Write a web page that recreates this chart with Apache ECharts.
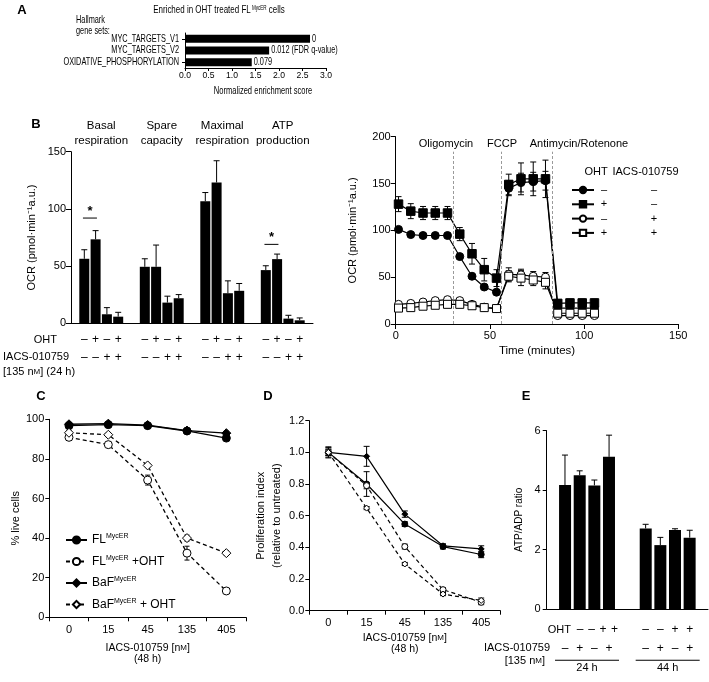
<!DOCTYPE html>
<html>
<head>
<meta charset="utf-8">
<title>IACS-010759 figure</title>
<script src="https://cdn.jsdelivr.net/npm/echarts@6.0.0/dist/echarts.min.js"></script>
<style>
  html, body { margin: 0; padding: 0; background: #fff; }
  #chart { width: 709px; height: 682px; }
</style>
</head>
<body>
<div id="chart"></div>
<script>
// ---------- data ----------
// A: GSEA hallmark sets
const gseaSets = ['MYC_TARGETS_V1', 'MYC_TARGETS_V2', 'OXIDATIVE_PHOSPHORYLATION'];
const gseaNES = [2.66, 1.79, 1.42];
const gseaFdr = ['0', '0.012 (FDR q-value)', '0.079'];

// B left: OCR summary, one row per condition, one value per group
const ocrGroups = ['Basal\nrespiration', 'Spare\ncapacity', 'Maximal\nrespiration', 'ATP\nproduction'];
const ocrOHT = ['–', '+', '–', '+'];
const ocrIACS = ['–', '–', '+', '+'];
const ocrMean = [
  [56.4, 49.4, 106.7, 46.5],
  [73.4, 49.4, 123.1, 56.1],
  [7.9, 18.1, 26.3, 4.1],
  [5.8, 21.9, 28.4, 2.6]
];
const ocrSem = [
  [7.9, 7.0, 7.6, 3.8],
  [7.6, 19.0, 19.0, 4.4],
  [5.8, 5.6, 10.8, 2.9],
  [3.8, 3.2, 6.4, 2.1]
];
const ocrSig = [[0, 92], [3, 69]]; // group index, bracket level

// B right: Seahorse trace
const seaTime = [1.5, 8, 14.5, 21, 27.5, 34, 40.5, 47, 53.5, 60, 66.5, 73, 79.5, 86, 92.5, 99, 105.5];
const seaInject = [30.5, 56, 83];
const seaInjectNames = ['Oligomycin', 'FCCP', 'Antimycin/Rotenone'];
const seaNames = ['ctrl', 'OHT', 'IACS', 'OHT+IACS'];
const seaOHT = ['–', '+', '–', '+'];
const seaIACS = ['–', '–', '+', '+'];
const seaCtrl = [101, 95.5, 94.5, 94.5, 94.5, 72, 51, 39.5, 34, 145, 151, 152, 153, 17, 17, 17, 17];
const seaOht = [128, 120.5, 118.5, 118.5, 118.5, 96, 75, 58, 49, 149, 155, 155, 155, 22, 22.5, 22.5, 22.5];
const seaIacs = [21, 22, 23.5, 25, 26, 25, 21, 18, 16.5, 53, 52.5, 51, 50, 9, 9, 9, 9];
const seaBoth = [17, 17.5, 19, 20, 21, 21, 19.5, 17.5, 16.5, 51, 49, 47, 44.5, 11.5, 11.5, 11.5, 11.5];
const seaCtrlSem = [2, 2, 1.5, 1.5, 1.5, 2, 2, 2, 2, 8, 10, 10, 10, 2, 2, 2, 2];
const seaOhtSem = [8, 8, 7, 7, 7, 7, 11, 12, 9, 11, 17, 18, 20, 4, 4, 4, 4];
const seaIacsSem = [2, 2, 2, 2, 2, 2, 2, 2, 2, 7, 6, 5, 5, 1, 1, 1, 1];
const seaBothSem = [2, 2, 2, 2, 2, 2, 2, 2, 2, 6, 8, 6, 7, 1, 1, 1, 1];

// C: viability
const doses = ['0', '15', '45', '135', '405'];
const liveFL = [96.8, 97.3, 96.8, 94.1, 90.5];
const liveFLOht = [90.9, 87.2, 69.3, 32.4, 13.3];
const liveBaF = [97.5, 97.8, 97.1, 94.3, 93.0];
const liveBaFOht = [93.2, 92.2, 76.7, 40.0, 32.4];
const liveFLSem = [1, 1, 0.8, 1, 1];
const liveFLOhtSem = [1, 1, 2.5, 3.5, 1.5];
const liveBaFSem = [1, 0.8, 0.8, 1, 1];
const liveBaFOhtSem = [1, 1, 1, 1.5, 1.2];

// D: proliferation index
const prolFL = [1.0, 0.80, 0.547, 0.405, 0.355];
const prolBaF = [1.0, 0.975, 0.61, 0.41, 0.39];
const prolFLOht = [1.0, 0.79, 0.405, 0.133, 0.053];
const prolBaFOht = [1.0, 0.648, 0.295, 0.105, 0.065];
const prolFLSem = [0.03, 0.078, 0.015, 0.015, 0.02];
const prolBaFSem = [0.035, 0.063, 0.02, 0.012, 0.02];
const prolFLOhtSem = [0.02, 0.02, 0.015, 0.012, 0.015];
const prolBaFOhtSem = [0.02, 0.01, 0.01, 0.01, 0.015];

// E: ATP/ADP ratio, one row per condition, one value per time point
const atpTimes = ['24 h', '44 h'];
const atpOHT = ['–', '–', '+', '+'];
const atpIACS = ['–', '+', '–', '+'];
const atpMean = [[4.17, 2.71], [4.5, 2.15], [4.16, 2.66], [5.12, 2.4]];
const atpSem = [[1.01, 0.14], [0.15, 0.26], [0.18, 0.04], [0.73, 0.25]];

// ---------- styling helpers ----------
const SANS = "'Liberation Sans', Arial, Helvetica, sans-serif";
const K = '#000';
const NARROW_X = 0.7; // panel A text is set in a condensed face
const axLine = { show: true, lineStyle: { color: K, width: 1 } };
const tick = len => ({ show: true, length: len, lineStyle: { color: K, width: 1 } });
const lbl = (size, extra) => Object.assign({ color: K, fontFamily: SANS, fontSize: size }, extra || {});
const signRow = (arr, key) => arr.map(s => '{' + (key || 's') + '|' + s + '}').join('');
const supRich = { sup: { fontSize: 7, lineHeight: 7, verticalAlign: 'top', fontFamily: SANS } };
const scRich = { sc: { fontSize: 8, fontFamily: SANS } };

// vertical error bars; pitch shifts bars of grouped series (4th value = condition)
function errorBars(xi, yi, data, cap, oneSided, pitch) {
  return {
    type: 'custom', xAxisIndex: xi, yAxisIndex: yi, z: 1, silent: true,
    encode: { x: 0, y: 1 },
    renderItem: function (params, api) {
      const v = api.value(1), e = api.value(2);
      const dx = pitch ? (api.value(3) - 1.5) * pitch : 0;
      const hi = api.coord([api.value(0), v + e]);
      const lo = api.coord([api.value(0), oneSided ? v : v - e]);
      const x = hi[0] + dx;
      const st = { stroke: K, lineWidth: 1 };
      const kids = [
        { type: 'line', shape: { x1: x, y1: hi[1], x2: x, y2: lo[1] }, style: st },
        { type: 'line', shape: { x1: x - cap / 2, y1: hi[1], x2: x + cap / 2, y2: hi[1] }, style: st }
      ];
      if (!oneSided) {
        kids.push({ type: 'line', shape: { x1: x - cap / 2, y1: lo[1], x2: x + cap / 2, y2: lo[1] }, style: st });
      }
      return { type: 'group', children: kids };
    },
    data: data
  };
}

function lineSeries(name, xi, yi, data, symbol, size, filled, dashed, width) {
  return {
    name: name, type: 'line', xAxisIndex: xi, yAxisIndex: yi, z: 3,
    data: data, symbol: symbol, symbolSize: size, showSymbol: true,
    lineStyle: { color: K, width: width || 1.2, type: dashed ? [4, 3] : 'solid' },
    itemStyle: { color: filled ? K : '#fff', borderColor: K, borderWidth: 1 },
    emphasis: { disabled: true }
  };
}

const ocrPitch = 11.3;
const atpPitch = 14.7;

const text = (x, y, t, extra, scaleX) => ({
  type: 'text', x: x, y: y, silent: true, scaleX: scaleX || 1,
  style: Object.assign({ text: t, fill: K, font: '11px ' + SANS, textAlign: 'left', textVerticalAlign: 'middle' }, extra || {})
});

// ---------- chart ----------
const chart = echarts.init(document.getElementById('chart'));

const series = [];

// A
series.push({
  type: 'bar', xAxisIndex: 0, yAxisIndex: 0, data: gseaNES, barWidth: 8,
  itemStyle: { color: K }
});
// condensed category names and q-values, placed through the axes
series.push({
  type: 'custom', xAxisIndex: 0, yAxisIndex: 0, silent: true, encode: { x: 0, y: 1 },
  data: gseaNES.map((v, i) => [v, i]),
  renderItem: function (params, api) {
    const i = params.dataIndex;
    const base = api.coord([0, i]);
    const end = api.coord([api.value(0), i]);
    const st = { fill: K, font: '10.5px ' + SANS, textVerticalAlign: 'middle' };
    return { type: 'group', children: [
      { type: 'text', x: base[0] - 6, y: base[1], scaleX: NARROW_X,
        style: Object.assign({ text: gseaSets[i], textAlign: 'right' }, st) },
      { type: 'text', x: end[0] + 2, y: end[1], scaleX: NARROW_X,
        style: Object.assign({ text: gseaFdr[i], textAlign: 'left' }, st) }
    ] };
  }
});

// B left
ocrMean.forEach(vals => series.push({
  type: 'bar', xAxisIndex: 1, yAxisIndex: 1, data: vals, barWidth: 10, barGap: '13%',
  itemStyle: { color: K }
}));
const ocrErr = [];
ocrMean.forEach((vals, c) => vals.forEach((v, g) => ocrErr.push([g, v, ocrSem[c][g], c])));
series.push(errorBars(1, 1, ocrErr, 6, true, ocrPitch));
series.push({
  type: 'custom', xAxisIndex: 1, yAxisIndex: 1, z: 4, silent: true, encode: { x: 0, y: 1 },
  data: ocrSig,
  renderItem: function (params, api) {
    const c = api.coord([api.value(0), api.value(1)]);
    const x = c[0] - ocrPitch;
    return { type: 'group', children: [
      { type: 'line', shape: { x1: x - 7, y1: c[1], x2: x + 7, y2: c[1] }, style: { stroke: K, lineWidth: 1 } },
      { type: 'text', style: { x: x, y: c[1] - 7, text: '*', fill: K, font: 'bold 13px ' + SANS,
        textAlign: 'center', textVerticalAlign: 'middle' } }
    ] };
  }
});

// B right
const seaSets = [seaCtrl, seaOht, seaIacs, seaBoth];
const seaSems = [seaCtrlSem, seaOhtSem, seaIacsSem, seaBothSem];
const seaSym = ['circle', 'rect', 'circle', 'rect'];
const seaSize = [8, 8.5, 8, 8];
const seaFill = [true, true, false, false];
seaSets.forEach((vals, i) => {
  const s = lineSeries(seaNames[i], 3, 2, seaTime.map((t, j) => [t, vals[j]]), seaSym[i], seaSize[i], seaFill[i], false, 1.2);
  if (i === 0) {
    s.markLine = {
      silent: true, symbol: 'none', label: { show: false },
      lineStyle: { color: '#9a9a9a', type: [3, 2], width: 1 },
      data: seaInject.map(t => [{ coord: [t, 0] }, { coord: [t, 184] }])
    };
  }
  series.push(s);
  series.push(errorBars(3, 2, seaTime.map((t, j) => [t, vals[j], seaSems[i][j]]), 6, false));
});

// C
const cSets = [
  ['FL', liveFL, liveFLSem, 'circle', 8, true, false],
  ['FL+OHT', liveFLOht, liveFLOhtSem, 'circle', 8, false, true],
  ['BaF', liveBaF, liveBaFSem, 'diamond', 9, true, false],
  ['BaF+OHT', liveBaFOht, liveBaFOhtSem, 'diamond', 9, false, true]
];
cSets.forEach(d => {
  series.push(lineSeries(d[0], 4, 3, d[1], d[3], d[4], d[5], d[6], 1.3));
  series.push(errorBars(4, 3, d[1].map((v, j) => [j, v, d[2][j]]), 5, false));
});

// D
const dSets = [
  ['D-FL', prolFL, prolFLSem, 'circle', 6, true, false],
  ['D-BaF', prolBaF, prolBaFSem, 'diamond', 6, true, false],
  ['D-FL+OHT', prolFLOht, prolFLOhtSem, 'circle', 6, false, true],
  ['D-BaF+OHT', prolBaFOht, prolBaFOhtSem, 'diamond', 6, false, true]
];
dSets.forEach(d => {
  series.push(lineSeries(d[0], 5, 4, d[1], d[3], d[4], d[5], d[6], 1.2));
  series.push(errorBars(5, 4, d[1].map((v, j) => [j, v, d[2][j]]), 6, false));
});

// E
atpMean.forEach(vals => series.push({
  type: 'bar', xAxisIndex: 6, yAxisIndex: 5, data: vals, barWidth: 12, barGap: '22%',
  itemStyle: { color: K }
}));
const atpErr = [];
atpMean.forEach((vals, c) => vals.forEach((v, g) => atpErr.push([g, v, atpSem[c][g], c])));
series.push(errorBars(6, 5, atpErr, 6, true, atpPitch));

const cLegendText = {
  'FL': 'FL{sup|MycER}',
  'FL+OHT': 'FL{sup|MycER} +OHT',
  'BaF': 'BaF{sup|MycER}',
  'BaF+OHT': 'BaF{sup|MycER} + OHT'
};

// first OHT row of panel E is squeezed to the right of its row label
const atpLabel = (v, i) => (i === 0 ? '{p|}' + signRow(atpOHT, 'q') : signRow(atpOHT)) +
  '\n' + signRow(atpIACS) + '\n{ln|}\n{t|' + v + '}';

const option = {
  animation: false,
  textStyle: { fontFamily: SANS },
  grid: [
    { left: 185, top: 33, width: 141, height: 35 },
    { left: 71, top: 151.7, width: 242, height: 171.6 },
    { left: 395.7, top: 136.7, width: 282.6, height: 187.3 },
    { left: 49.3, top: 419.3, width: 196.7, height: 198 },
    { left: 309.3, top: 420.7, width: 191, height: 190 },
    { left: 546.7, top: 430.7, width: 161.3, height: 178.3 }
  ],
  xAxis: [
    { gridIndex: 0, type: 'value', min: 0, max: 3, interval: 0.5, axisLine: axLine, axisTick: tick(3),
      splitLine: { show: false },
      axisLabel: lbl(8.6, { margin: 3, formatter: v => v.toFixed(1) }) },
    { gridIndex: 1, type: 'category', data: ocrGroups, axisLine: axLine, axisTick: { show: false },
      axisLabel: lbl(12, { margin: 7, interval: 0,
        formatter: () => signRow(ocrOHT) + '\n' + signRow(ocrIACS),
        rich: { s: { width: ocrPitch, align: 'center', fontSize: 12, lineHeight: 18, fontFamily: SANS } } }) },
    { gridIndex: 1, type: 'category', position: 'top', data: ocrGroups, axisLine: { show: false },
      axisTick: { show: false }, axisLabel: lbl(11.5, { margin: 3, lineHeight: 15.5, interval: 0 }) },
    { gridIndex: 2, type: 'value', min: 0, max: 150, interval: 50, axisLine: axLine, axisTick: tick(5),
      splitLine: { show: false }, axisLabel: lbl(11, { margin: 6 }),
      name: 'Time (minutes)', nameLocation: 'middle', nameGap: 21, nameTextStyle: lbl(11.5) },
    { gridIndex: 3, type: 'category', data: doses, axisLine: axLine, axisTick: tick(4),
      axisLabel: lbl(11, { margin: 7 }),
      name: 'IACS-010759 [n{sc|M}]\n(48 h)', nameLocation: 'middle', nameGap: 25,
      nameTextStyle: lbl(10.5, { lineHeight: 11, rich: scRich }) },
    { gridIndex: 4, type: 'category', data: doses, axisLine: axLine, axisTick: tick(4),
      axisLabel: lbl(11, { margin: 7 }),
      name: 'IACS-010759 [n{sc|M}]\n(48 h)', nameLocation: 'middle', nameGap: 22,
      nameTextStyle: lbl(10.5, { lineHeight: 11, rich: scRich }) },
    { gridIndex: 5, type: 'category', data: atpTimes, axisLine: axLine, axisTick: { show: false },
      axisLabel: lbl(11, { margin: 10.8, interval: 0, formatter: atpLabel,
        rich: {
          s: { width: atpPitch, align: 'center', fontSize: 12, lineHeight: 19, fontFamily: SANS },
          q: { width: 11.5, align: 'center', fontSize: 12, lineHeight: 19, fontFamily: SANS },
          p: { width: 20.5, lineHeight: 19 },
          ln: { width: 64, height: 1, backgroundColor: K, lineHeight: 5 },
          t: { fontSize: 11, lineHeight: 11, fontFamily: SANS }
        } }) }
  ],
  yAxis: [
    { gridIndex: 0, type: 'category', inverse: true, data: gseaSets, axisLine: axLine,
      axisTick: { show: true, alignWithLabel: true, length: 3, lineStyle: { color: K } },
      axisLabel: { show: false } },
    { gridIndex: 1, type: 'value', min: 0, max: 150, interval: 50, axisLine: axLine, axisTick: tick(5),
      splitLine: { show: false }, axisLabel: lbl(11, { margin: 5 }),
      name: 'OCR (pmol·min⁻¹a.u.)', nameLocation: 'middle', nameGap: 34, nameTextStyle: lbl(11) },
    { gridIndex: 2, type: 'value', min: 0, max: 200, interval: 50, axisLine: axLine, axisTick: tick(5),
      splitLine: { show: false }, axisLabel: lbl(11, { margin: 5 }),
      name: 'OCR (pmol·min⁻¹a.u.)', nameLocation: 'middle', nameGap: 37, nameTextStyle: lbl(11) },
    { gridIndex: 3, type: 'value', min: 0, max: 100, interval: 20, axisLine: axLine, axisTick: tick(4),
      splitLine: { show: false }, axisLabel: lbl(11, { margin: 5 }),
      name: '% live cells', nameLocation: 'middle', nameGap: 28, nameTextStyle: lbl(11) },
    { gridIndex: 4, type: 'value', min: 0, max: 1.2, interval: 0.2, axisLine: axLine, axisTick: tick(4),
      splitLine: { show: false }, axisLabel: lbl(11, { margin: 5, formatter: v => v.toFixed(1) }),
      name: 'Proliferation index\n(relative to untreated)', nameLocation: 'middle', nameGap: 24,
      nameTextStyle: lbl(11, { lineHeight: 16 }) },
    { gridIndex: 5, type: 'value', min: 0, max: 6, interval: 2, axisLine: axLine, axisTick: tick(4),
      splitLine: { show: false }, axisLabel: lbl(11, { margin: 6 }),
      name: 'ATP/ADP ratio', nameLocation: 'middle', nameGap: 22, nameTextStyle: lbl(10) }
  ],
  legend: [
    { data: seaNames, orient: 'vertical', left: 566, top: 179, itemWidth: 22, itemHeight: 8, itemGap: 2.3,
      selectedMode: false,
      formatter: n => { const i = seaNames.indexOf(n); return '{a|' + seaOHT[i] + '}{b|' + seaIACS[i] + '}'; },
      textStyle: { color: K, fontSize: 11, lineHeight: 12, fontFamily: SANS,
        rich: { a: { width: 10, align: 'center', fontSize: 11, fontFamily: SANS },
                b: { width: 90, align: 'center', fontSize: 11, fontFamily: SANS } } } },
    { data: Object.keys(cLegendText), orient: 'vertical', left: 60, top: 528, itemWidth: 21, itemHeight: 9,
      itemGap: 7.5, selectedMode: false,
      formatter: n => cLegendText[n],
      textStyle: { color: K, fontSize: 12, lineHeight: 14, fontFamily: SANS, rich: supRich } }
  ],
  graphic: [
    text(22, 10, 'A', { font: 'bold 13px ' + SANS, textAlign: 'center' }),
    text(219, 10, 'Enriched in OHT treated FL{sup| MycER} cells',
      { font: '11.4px ' + SANS, textAlign: 'center', rich: { sup: { fontSize: 6.5, lineHeight: 6, verticalAlign: 'top', fontFamily: SANS } } }, NARROW_X),
    text(76, 20, 'Hallmark', { font: '10.5px ' + SANS }, NARROW_X),
    text(76, 31, 'gene sets:', { font: '10.5px ' + SANS }, NARROW_X),
    text(263, 91, 'Normalized enrichment score', { font: '10.8px ' + SANS, textAlign: 'center' }, NARROW_X),

    text(36, 124, 'B', { font: 'bold 13px ' + SANS, textAlign: 'center' }),
    text(57, 339.5, 'OHT', { textAlign: 'right' }),
    text(3, 357, 'IACS-010759'),
    text(3, 372, '[135 n{sc|M}] (24 h)', { rich: scRich }),

    text(446, 144, seaInjectNames[0], { textAlign: 'center' }),
    text(502, 144, seaInjectNames[1], { textAlign: 'center' }),
    text(579, 144, seaInjectNames[2], { textAlign: 'center' }),
    text(596, 172, 'OHT', { textAlign: 'center' }),
    text(645.5, 172, 'IACS-010759', { textAlign: 'center' }),

    text(41, 396, 'C', { font: 'bold 13px ' + SANS, textAlign: 'center' }),
    text(268, 396, 'D', { font: 'bold 13px ' + SANS, textAlign: 'center' }),
    text(526, 396, 'E', { font: 'bold 13px ' + SANS, textAlign: 'center' }),

    text(571, 629.5, 'OHT', { textAlign: 'right' }),
    text(550, 648, 'IACS-010759', { textAlign: 'right' }),
    text(545, 660.5, '[135 n{sc|M}]', { textAlign: 'right', rich: scRich })
  ],
  series: series
};

chart.setOption(option);
</script>
</body>
</html>
